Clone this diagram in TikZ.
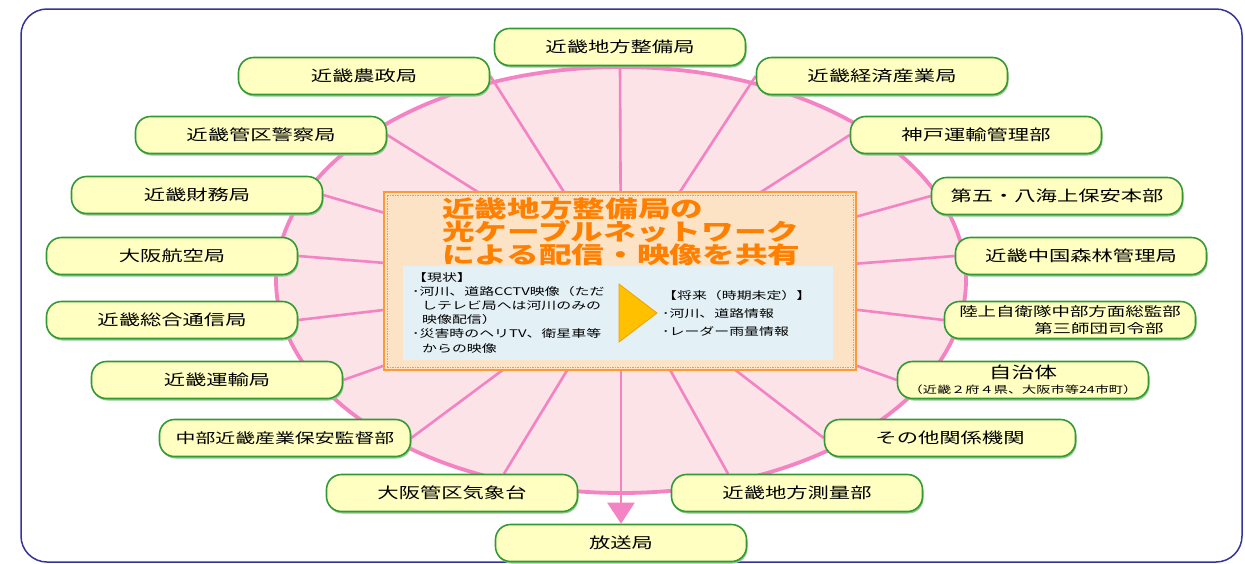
\documentclass[tikz,border=0pt]{standalone}
\usepackage{fontspec}
\newfontfamily\jpfont[FakeStretch=1.42]{Noto Sans CJK JP}
\usetikzlibrary{arrows.meta,shadows}
\pgfdeclarelayer{background}
\pgfsetlayers{background,main}

\definecolor{frameblue}{HTML}{333399}
\definecolor{rimpink}{HTML}{F383C3}
\definecolor{ovalpink}{HTML}{FCE3E8}
\definecolor{pillyellow}{HTML}{FFFFC2}
\definecolor{pillgreen}{HTML}{339933}
\definecolor{boxpeach}{HTML}{FCE3C5}
\definecolor{boxorange}{HTML}{FF9933}
\definecolor{paneblue}{HTML}{E3F1F7}
\definecolor{titleorange}{HTML}{FF7F00}
\definecolor{arrowgold}{HTML}{FFC000}
\definecolor{arrowedge}{HTML}{F5A000}

\tikzset{
  office/.style={draw=pillgreen, line width=1.6pt, fill=pillyellow, rounded corners=15pt,
    minimum width=251pt, minimum height=37pt, inner sep=0pt,
    font=\jpfont\fontsize{15}{17}\selectfont,
    drop shadow={shadow xshift=1pt, shadow yshift=-2pt, fill=pillgreen!55!white, opacity=1}},
  spoke/.style={draw=rimpink, line width=2.6pt},
  memo/.style={anchor=north west, inner sep=0pt, align=left, font=\jpfont\fontsize{10.5}{14.2}\selectfont}
}

\begin{document}
\begin{tikzpicture}[x=1pt,y=-1pt]
\useasboundingbox (0,0) rectangle (1245,563);
\draw[frameblue, line width=1.5pt, rounded corners=26pt] (21,9) rectangle (1242,562);

% centre panel
\coordinate (hub) at (621,282);
\node[draw=boxorange, line width=1.2pt, fill=boxpeach, minimum width=472pt, minimum height=178pt, inner sep=0pt] (board) at (620,281) {};
\draw[boxorange, line width=.6pt, dash pattern=on 1.5pt off 1pt] ([shift={(3.5pt,3.5pt)}]board.south west) rectangle ([shift={(-3.5pt,-3.5pt)}]board.north east);
\node[fill=paneblue, minimum width=430pt, minimum height=94pt, inner sep=0pt, anchor=north west] (pane) at (403,266) {};
\node[anchor=north west, inner sep=0pt, align=left, text=titleorange, font=\jpfont\bfseries\fontsize{23}{21}\selectfont] (title) at (442,197) {近畿地方整備局の\\光ケーブルネットワーク\\による配信・映像を共有};
\node[memo] (now) at (412,272) {【現状】\\･河川、道路CCTV映像（ただ\\\hspace*{10pt}しテレビ局へは河川のみの\\\hspace*{10pt}映像配信）\\･災害時のヘリTV、衛星車等\\\hspace*{10pt}からの映像};
\draw[draw=arrowedge, fill=arrowgold, line width=.8pt] (619,284) -- (657,313) -- (619,342) -- cycle;
\node[memo, font=\jpfont\fontsize{10.5}{18}\selectfont] (future) at (662,290) {【将来（時期未定）】\\･河川、道路情報\\･レーダー雨量情報};

% offices round the oval
\node[office] (seibi) at (620,47) {近畿地方整備局};
\node[office] (nosei) at (364,76) {近畿農政局};
\node[office] (keisatsu) at (261,135) {近畿管区警察局};
\node[office] (zaimu) at (197,195) {近畿財務局};
\node[office] (koku) at (172,256) {大阪航空局};
\node[office] (tsushin) at (172,320) {近畿総合通信局};
\node[office] (unyu) at (217,380) {近畿運輸局};
\node[office, font=\jpfont\fontsize{14}{16}\selectfont] (hoan) at (285,438) {中部近畿産業保安監督部};
\node[office] (kisho) at (452,493) {大阪管区気象台};
\node[office] (hoso) at (621,543) {放送局};
\node[office] (sokuryo) at (797,493) {近畿地方測量部};
\node[office] (sonota) at (950,438) {その他関係機関};
\node[office, align=center] (jichitai) at (1023,380) {\fontsize{16}{17}\selectfont 自治体\\[-2pt]\fontsize{10}{11}\selectfont （近畿２府４県、大阪市等24市町）};
\node[office, align=left, font=\jpfont\fontsize{13}{17}\selectfont] (jieitai) at (1070,320) {陸上自衛隊中部方面総監部\\\hspace*{75pt}第三師団司令部};
\node[office] (shinrin) at (1081,256) {近畿中国森林管理局};
\node[office] (kaijo) at (1057,196) {第五・八海上保安本部};
\node[office] (kobe) at (976,135) {神戸運輸管理部};
\node[office] (keizai) at (882,76) {近畿経済産業局};

\begin{pgfonlayer}{background}
\draw[draw=rimpink, line width=3.8pt, fill=ovalpink] (621,280) ellipse [x radius=345, y radius=213];
\draw[spoke] (hub) -- (seibi.south);
\draw[spoke] (hub) -- (nosei.east);
\draw[spoke] (hub) -- (keisatsu.east);
\draw[spoke] (hub) -- (zaimu.east);
\draw[spoke] (hub) -- (koku.east);
\draw[spoke] (hub) -- (tsushin.east);
\draw[spoke] (hub) -- (unyu.east);
\draw[spoke] (hub) -- (hoan.east);
\draw[spoke] (hub) -- ([xshift=52pt]kisho.north);
\draw[spoke] (hub) -- ([xshift=-69pt]sokuryo.north);
\draw[spoke] (hub) -- (sonota.west);
\draw[spoke] (hub) -- (jichitai.west);
\draw[spoke] (hub) -- (jieitai.west);
\draw[spoke] (hub) -- (shinrin.west);
\draw[spoke] (hub) -- (kaijo.west);
\draw[spoke] (hub) -- (kobe.west);
\draw[spoke] (hub) -- (keizai.west);
\draw[spoke, -{Triangle[width=27pt,length=21pt]}] (hub) -- (hoso.north);
\end{pgfonlayer}
\end{tikzpicture}
\end{document}
